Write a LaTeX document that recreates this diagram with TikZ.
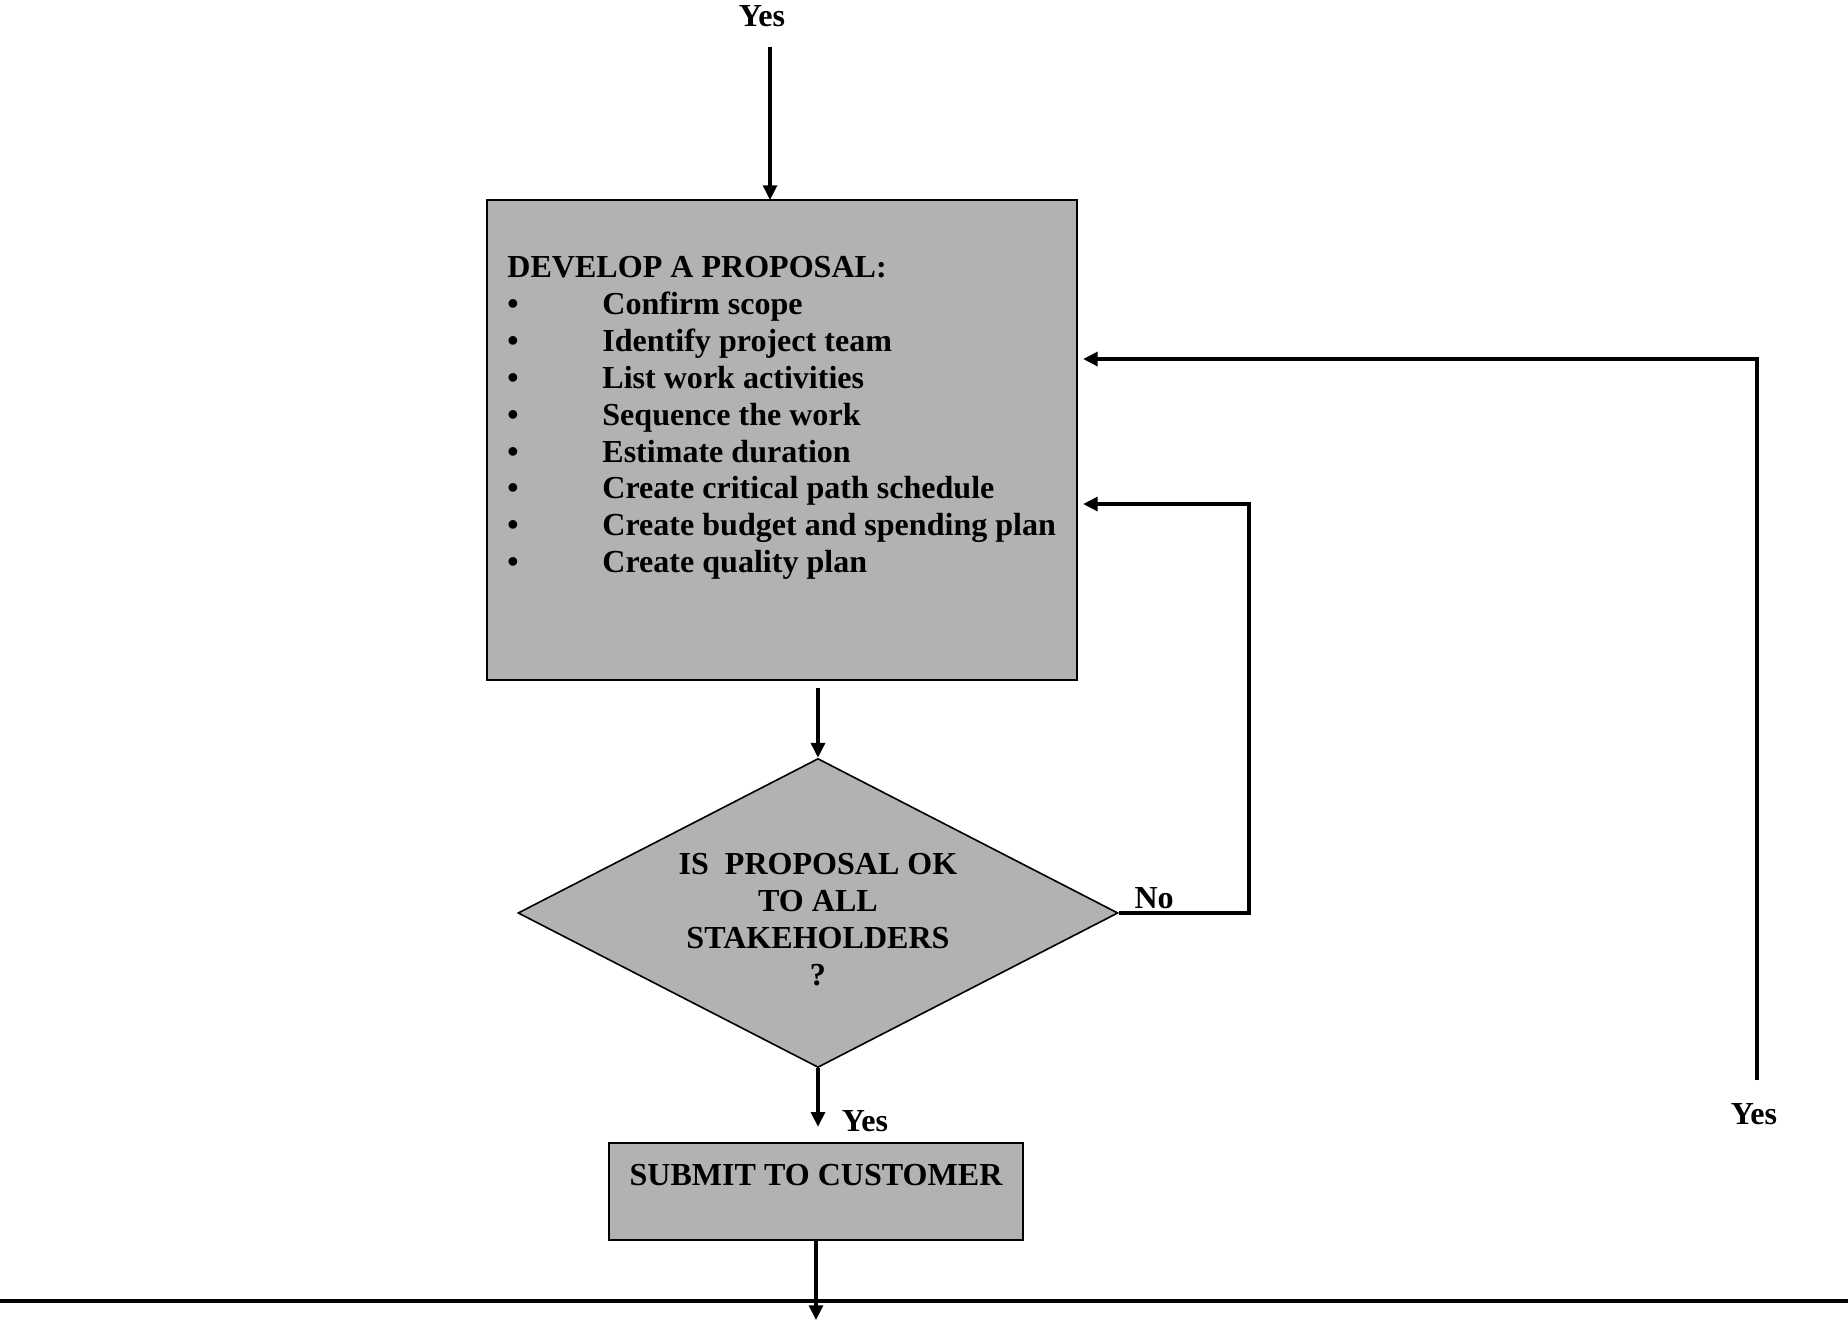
\documentclass[tikz,border=0pt]{standalone}
\usepackage{fontspec}
\setmainfont{Liberation Serif}
\usetikzlibrary{calc,arrows.meta,shapes.geometric}

\definecolor{boxgray}{RGB}{178,178,178}
\newcommand{\taskbullet}{\makebox[1.25cm][l]{\textbullet}}

\begin{document}
\begin{tikzpicture}[
    font=\fontsize{12}{13.8}\selectfont\bfseries,
    lbl/.style={inner sep=0pt},
    procbox/.style={draw=black, fill=boxgray, line width=0.8pt},
    decision/.style={diamond, draw=black, fill=boxgray, line width=0.6pt, aspect=2, inner sep=0pt, align=center},
    flow/.style={line width=1.2pt, -{Triangle[length=5.5pt,width=5.2pt]}}
]
    \useasboundingbox (0,0) rectangle (24.316,17.408);
    \coordinate (topstart) at (10.132,16.789);
    \coordinate (topin) at (10.132,14.776);
    \coordinate (noturn) at (16.434,10.776);
    \coordinate (yesstart) at (23.118,3.197);
    \coordinate (yesturn) at (23.118,12.684);
    \coordinate (exit) at (10.737,0.039);
    \coordinate (railL) at (0,0.289);
    \coordinate (railR) at (24.316,0.289);
    \node[lbl] (yestop) at (10.026,17.2) {Yes};
    \node[procbox, minimum width=7.763cm, minimum height=6.316cm] (develop) at (10.289,11.618) {};
    \node[lbl, align=left, anchor=north west] (tasks) at ($(develop.north west)+(0.276,-0.75)$) {DEVELOP A PROPOSAL:\\
        \taskbullet Confirm scope\\
        \taskbullet Identify project team\\
        \taskbullet List work activities\\
        \taskbullet Sequence the work\\
        \taskbullet Estimate duration\\
        \taskbullet Create critical path schedule\\
        \taskbullet Create budget and spending plan\\
        \taskbullet Create quality plan};
    \node[decision, minimum width=7.895cm, minimum height=4.066cm] (ok) at (10.763,5.395) {\rule{0pt}{0.45cm}IS\ \ PROPOSAL OK\\TO ALL\\STAKEHOLDERS\\?};
    \node[lbl, anchor=base west] (nolbl) at (14.921,5.46) {No};
    \node[lbl, anchor=base west] (yesdown) at (11.07,2.526) {Yes};
    \node[procbox, minimum width=5.447cm, minimum height=1.276cm, text depth=12.3pt] (submit) at (10.737,1.730) {SUBMIT TO CUSTOMER};
    \node[lbl] (yesright) at (23.079,2.75) {Yes};
    \draw[flow] (topstart) -- (topin);
    \draw[flow] ([yshift=-0.09cm]develop.south -| ok.north) -- (ok.north);
    \draw[flow, line width=1.4pt] (ok.east) -| (noturn) -- ([xshift=0.066cm]noturn -| develop.east);
    \draw[flow, line width=1.4pt] (yesstart) -- (yesturn) -- ([xshift=0.066cm]yesturn -| develop.east);
    \draw[flow, shorten >=0.2cm] (ok.south) -- (ok.south |- submit.north);
    \draw[line width=1.5pt] (railL) -- (railR);
    \draw[flow] (submit.south) -- (exit);
\end{tikzpicture}
\end{document}
